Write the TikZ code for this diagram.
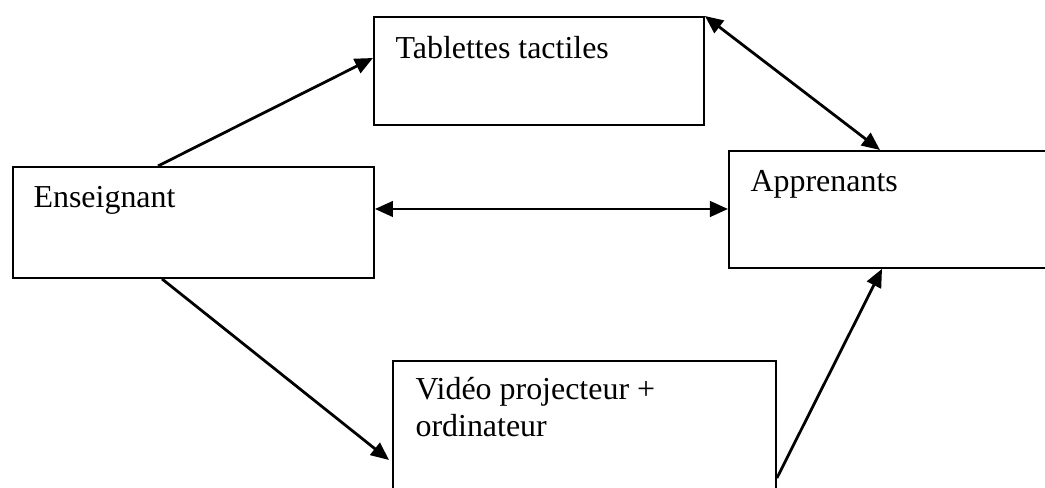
\documentclass[tikz,border=0pt]{standalone}
\usepackage{fontspec}
\setmainfont{Liberation Serif}
\usetikzlibrary{arrows.meta,positioning,calc}
\newcommand\pxu{0.36pt}

\begin{document}
\begin{tikzpicture}[
    x=0.36pt, y=-0.36pt,
    box/.style={rectangle, draw=black, line width=0.7pt, anchor=north west, inner sep=0pt},
    boxtext/.style={anchor=north west, inner sep=0pt, align=left,
                    font=\fontsize{11.5}{13.4}\selectfont},
    link/.style={line width=1pt, -{Triangle[length=6.5pt, width=5.6pt]}},
    dlink/.style={line width=1pt, {Triangle[length=6.5pt, width=5.6pt]}-{Triangle[length=6.5pt, width=5.6pt]}}
]
    \useasboundingbox (0,0) rectangle (1045,488);
    \clip (0,0) rectangle (1045,488);

    % Boxes
    \node[box, minimum width=330*\pxu, minimum height=108*\pxu] (tab) at (373,16) {};
    \node[box, minimum width=361*\pxu, minimum height=111*\pxu] (ens) at (12,166) {};
    \node[box, minimum width=340*\pxu, minimum height=117*\pxu] (app) at (728,150) {};
    \node[box, minimum width=383*\pxu, minimum height=150*\pxu] (vid) at (392,360) {};

    % Texts
    \node[boxtext] (tabtxt) at ([xshift=22*\pxu, yshift=-20*\pxu]tab.north west) {Tablettes tactiles};
    \node[boxtext] (enstxt) at ([xshift=21*\pxu, yshift=-20*\pxu]ens.north west) {Enseignant};
    \node[boxtext] (apptxt) at ([xshift=22*\pxu, yshift=-20*\pxu]app.north west) {Apprenants};
    \node[boxtext] (vidtxt) at ([xshift=23*\pxu, yshift=-17*\pxu]vid.north west) {Vidéo projecteur +\\ordinateur};

    % Connections
    \draw[link] ([xshift=146*\pxu]ens.north west) -- ([yshift=-42*\pxu]tab.north west);
    \draw[dlink] (tab.north east) -- ([xshift=152*\pxu]app.north west);
    \draw[dlink] ([yshift=-43*\pxu]ens.north east) -- ([yshift=-59*\pxu]app.north west);
    \draw[link] ([xshift=150*\pxu]ens.south west) -- ([xshift=-3*\pxu, yshift=-100*\pxu]vid.north west);
    \draw[link] ([yshift=-118*\pxu]vid.north east) -- ([xshift=154*\pxu]app.south west);
\end{tikzpicture}
\end{document}
